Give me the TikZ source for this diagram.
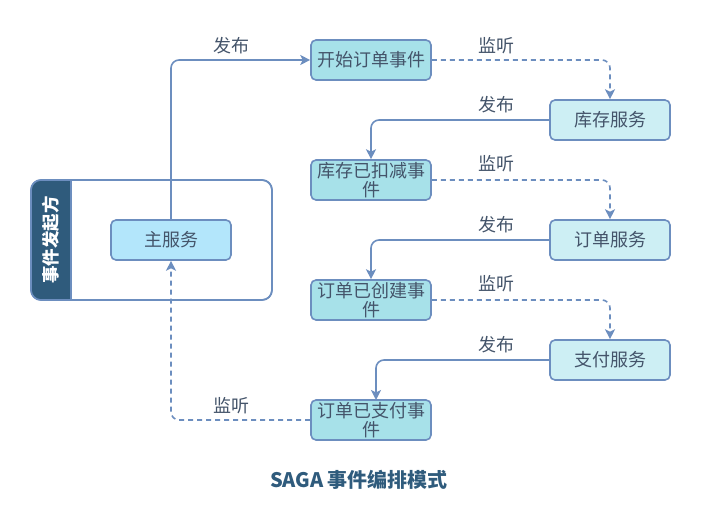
\documentclass[tikz,border=0pt]{standalone}
\usepackage{fontspec}
\setmainfont{Noto Sans CJK SC}
\usetikzlibrary{arrows.meta}
\definecolor{edge}{HTML}{6C8EBF}
\definecolor{txt}{HTML}{44546A}
\definecolor{head}{HTML}{2F5B7C}
\definecolor{mainfill}{HTML}{B3E6FB}
\definecolor{evfill}{HTML}{A7E1E9}
\definecolor{svfill}{HTML}{CDEFF4}
\begin{document}
\begin{tikzpicture}[x=1pt,y=-1pt,
  box/.style={draw=edge,line width=1.6pt,rounded corners=5pt,minimum width=120pt,minimum height=40pt,inner sep=0pt,font=\fontsize{18}{19}\selectfont,text=txt,align=center},
  evbox/.style={box,fill=evfill},
  svbox/.style={box,fill=svfill},
  lbl/.style={font=\fontsize{18}{19}\selectfont,text=txt},
  conn/.style={draw=edge,line width=1.6pt,rounded corners=8pt,-{Stealth[length=10pt,width=10pt,inset=2.5pt]}},
  dconn/.style={conn,dash pattern=on 5pt off 4pt}]
\useasboundingbox (0,0) rectangle (702,530);
% pool
\draw[edge,line width=1.6pt,fill=white,rounded corners=10pt] (31,180) rectangle (272,300);
\begin{scope}
\clip[rounded corners=10pt] (31,180) rectangle (272,300);
\fill[head] (31,180) rectangle (71,300);
\end{scope}
\draw[edge,line width=1.6pt,rounded corners=10pt] (31,180) rectangle (272,300);
\draw[edge,line width=1.6pt] (71,180) -- (71,300);
\node[rotate=90,text=white,font=\fontsize{17.5}{19}\selectfont\bfseries] (hdr) at (51,240) {事件发起方};
% nodes
\node[box,fill=mainfill] (main) at (171,240) {主服务};
\node[evbox] (e1) at (371,60) {开始订单事件};
\node[svbox] (s1) at (610,120) {库存服务};
\node[evbox] (e2) at (371,180) {库存已扣减事\\件};
\node[svbox] (s2) at (610,240) {订单服务};
\node[evbox] (e3) at (371,300) {订单已创建事\\件};
\node[svbox] (s3) at (610,360) {支付服务};
\node[evbox] (e4) at (371,420) {订单已支付事\\件};
% connectors
\draw[conn] (main.north) -- (171,60) -- (e1.west);
\draw[dconn] (e1.east) -- (610,60) -- (s1.north);
\draw[conn] (s1.west) -- (371,120) -- (e2.north);
\draw[dconn] (e2.east) -- (610,180) -- (s2.north);
\draw[conn] (s2.west) -- (371,240) -- (e3.north);
\draw[dconn] (e3.east) -- (610,300) -- (s3.north);
\draw[conn] (s3.west) -- (376,360) -- (376,400);
\draw[dconn] (e4.west) -- (171,420) -- (main.south);
% labels
\node[lbl] (l1) at (231,46) {发布};
\node[lbl] (l2) at (496,46) {监听};
\node[lbl] (l3) at (496,105) {发布};
\node[lbl] (l4) at (496,164) {监听};
\node[lbl] (l5) at (496,225) {发布};
\node[lbl] (l6) at (496,284) {监听};
\node[lbl] (l7) at (496,345) {发布};
\node[lbl] (l8) at (231,406) {监听};
\node[text=head,font=\fontsize{20}{22}\selectfont\bfseries] (title) at (359,480) {SAGA 事件编排模式};
\end{tikzpicture}
\end{document}
